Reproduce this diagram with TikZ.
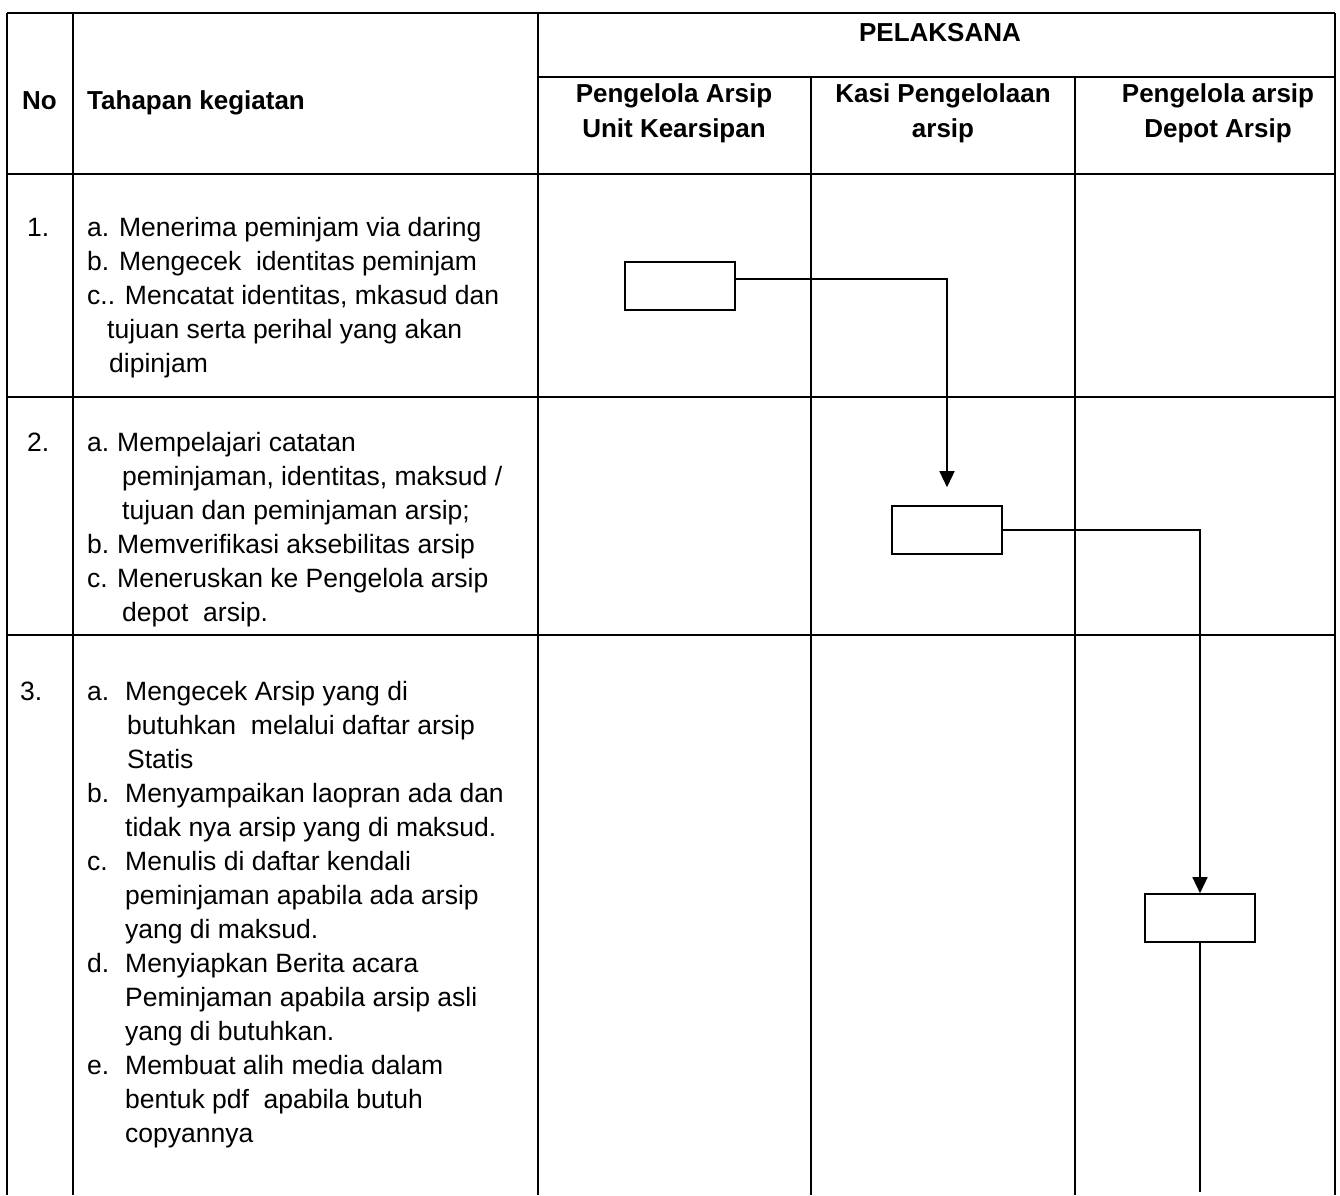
\documentclass[tikz,border=0pt]{standalone}
\usepackage{fontspec}
\setmainfont{Liberation Sans}
\usetikzlibrary{arrows.meta}
\newcommand{\cellfont}{\fontsize{26.5}{34}\selectfont}
\newcommand{\headfont}{\fontsize{26}{35}\selectfont\bfseries}

\begin{document}
\begin{tikzpicture}[x=1pt,y=-1pt,->,>={Triangle[length=16pt,width=15pt]},
    grid/.style={-,line width=2pt},
    box/.style={-,draw,line width=1.6pt,minimum width=110pt,minimum height=48pt,inner sep=0pt},
    flow/.style={line width=1.4pt},
    txt/.style={inner sep=0pt,anchor=base west,font=\cellfont},
    head/.style={inner sep=0pt,anchor=base,font=\headfont}]
    \useasboundingbox (0,0) rectangle (1340,1195);
    % horizontal line
    \draw[grid] (7,13) -- (1335,13);
    \draw[grid] (538,77) -- (1335,77);
    \draw[grid] (7,174) -- (1335,174);
    \draw[grid] (7,397) -- (1335,397);
    \draw[grid] (7,635) -- (1335,635);
    % vertical line
    \foreach \x in {7,73,538,1335}
      \draw[grid] (\x,13) -- (\x,1195);
    \foreach \x in {811,1075}
      \draw[grid] (\x,77) -- (\x,1195);
    % header
    \node[head] (pl) at (940,41) {PELAKSANA};
    \node[head,anchor=base west] (no) at (22,109) {No};
    \node[head,anchor=base west] (th) at (87,109) {Tahapan kegiatan};
    \node[head] (ha) at (674,102) {\begin{tabular}[t]{@{}c@{}}Pengelola Arsip\\Unit Kearsipan\end{tabular}};
    \node[head] (hb) at (943,102) {\begin{tabular}[t]{@{}c@{}}Kasi Pengelolaan\\arsip\end{tabular}};
    \node[head] (hc) at (1218,102) {\begin{tabular}[t]{@{}c@{}}Pengelola arsip\\Depot Arsip\end{tabular}};
    % row 1
    \node[txt] (n1) at (27,236) {1.};
    \node[txt] (s1) at (87,236) {\begin{tabular}[t]{@{}l@{}}
      a. Menerima peminjam via daring\\
      b. Mengecek\ \ identitas peminjam\\
      c.. Mencatat identitas, mkasud dan\\
      \hspace*{20pt}tujuan serta perihal yang akan\\
      \hspace*{22pt}dipinjam
    \end{tabular}};
    % row 2
    \node[txt] (n2) at (27,451) {2.};
    \node[txt] (s2) at (87,451) {\begin{tabular}[t]{@{}p{30pt}@{}l@{}}
      a. & Mempelajari catatan\\
         & \hspace*{5pt}peminjaman, identitas, maksud /\\
         & \hspace*{5pt}tujuan dan peminjaman arsip;\\
      b. & Memverifikasi aksebilitas arsip\\
      c. & Meneruskan ke Pengelola arsip\\
         & \hspace*{5pt}depot\ \ arsip.
    \end{tabular}};
    % row 3
    \node[txt] (n3) at (20,700) {3.};
    \node[txt] (s3) at (87,700) {\begin{tabular}[t]{@{}p{38pt}@{}l@{}}
      a. & Mengecek Arsip yang di\\
         & \hspace*{2pt}butuhkan\ \ melalui daftar arsip\\
         & \hspace*{2pt}Statis\\
      b. & Menyampaikan laopran ada dan\\
         & tidak nya arsip yang di maksud.\\
      c. & Menulis di daftar kendali\\
         & peminjaman apabila ada arsip\\
         & yang di maksud.\\
      d. & Menyiapkan Berita acara\\
         & Peminjaman apabila arsip asli\\
         & yang di butuhkan.\\
      e. & Membuat alih media dalam\\
         & bentuk pdf\ \ apabila butuh\\
         & copyannya
    \end{tabular}};
    % flow boxes
    \node[box] (b1) at (680,286) {};
    \node[box] (b2) at (947,530) {};
    \node[box] (b3) at (1200,918) {};
    \coordinate (end) at (1200,1192);
    % from b1 to b2, b2 to b3
    \draw[flow] ([yshift=7pt]b1.east) -| ([yshift=18pt]b2.north);
    \draw[flow] (b2.east) -| (b3.north);
    \draw[flow,-] (b3.south) -- (end);
\end{tikzpicture}
\end{document}
